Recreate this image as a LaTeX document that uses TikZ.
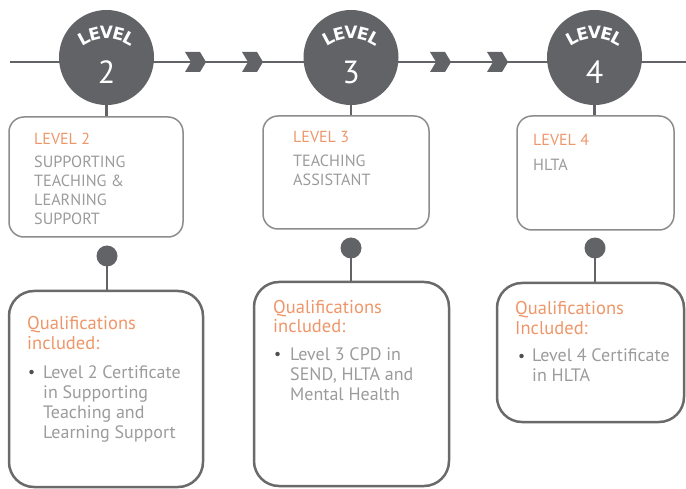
\documentclass[tikz,border=0pt]{standalone}
\usepackage{fontspec}
\setmainfont{PT Sans}
\newfontfamily\lvlfont{DejaVu Sans}
\usetikzlibrary{calc}
\definecolor{dk}{RGB}{98,99,102}
\definecolor{orng}{RGB}{238,150,105}
\definecolor{txtg}{RGB}{155,155,155}
\definecolor{boxg}{RGB}{140,140,142}
\definecolor{boxd}{RGB}{105,106,108}
\tikzset{
  levelcirc/.style={circle,fill=dk,minimum size=95pt,inner sep=0pt},
  lvl/.style={text=white,font=\lvlfont\bfseries\fontsize{17}{17}\selectfont,inner sep=0pt,anchor=base},
  numtxt/.style={text=white,font=\fontsize{32}{32}\selectfont,inner sep=0pt},
  topbox/.style={draw=boxg,line width=1.5pt,rounded corners=15pt,inner sep=0pt},
  botbox/.style={draw=boxd,line width=2.5pt,rounded corners=25pt,inner sep=0pt},
  link/.style={draw=dk,line width=2.5pt},
  dotnode/.style={circle,fill=dk,minimum size=21pt,inner sep=0pt},
  bulletdot/.style={circle,fill=dk!80!black,minimum size=4.5pt,inner sep=0pt},
  ttl/.style={text=orng,anchor=base west,inner sep=0pt},
  bdy/.style={text=txtg,anchor=base west,inner sep=0pt},
  chev/.style={fill=dk}
}
\newcommand{\toptitle}[1]{\parbox[t]{160pt}{\raggedright\fontsize{16}{19}\selectfont #1}}
\newcommand{\topbody}[1]{\parbox[t]{160pt}{\raggedright\fontsize{16.2}{19}\selectfont #1}}
\newcommand{\qtitle}[1]{\parbox[t]{170pt}{\raggedright\fontsize{18.5}{20}\selectfont #1}}
\newcommand{\qbody}[1]{\parbox[t]{170pt}{\raggedright\fontsize{18}{20}\selectfont #1}}
\begin{document}
\begin{tikzpicture}[x=1pt,y=-1pt]
\useasboundingbox (0,0) rectangle (686,489);
% timeline
\coordinate (lineL) at (10,62);
\coordinate (lineR) at (686,62);
\draw[link] (lineL) -- (lineR);
% chevrons
\foreach \cx in {185,242,430,487}{
  \fill[chev] (\cx,52) -- ++(15,0) -- ++(6,10) -- ++(-6,10) -- ++(-15,0) -- ++(6,-10) -- cycle;
}
% circles
\foreach \n/\cx in {2/106.5,3/351,4/594.5}{
  \node[levelcirc] (c\n) at (\cx,57.5) {};
  \foreach \ch/\a [count=\k] in {L/-28.2,E/-14.4,V/0,E/14.4,L/28.2}{
    \node[lvl,rotate=-\a] (c\n l\k) at ({\cx+42*sin(\a)},{81-42*cos(\a)}) {\ch};
  }
  \node[numtxt] (c\n num) at (\cx,72) {\n};
}
% top boxes
\node[topbox,minimum width=174pt,minimum height=120pt] (t2) at (96,177) {};
\node[topbox,minimum width=166pt,minimum height=113pt] (t3) at (346,172.5) {};
\node[topbox,minimum width=157pt,minimum height=114pt] (t4) at (595.5,173) {};
% dots
\node[dotnode] (d2) at (107,256) {};
\node[dotnode] (d3) at (351,248) {};
\node[dotnode] (d4) at (595,248) {};
% bottom boxes
\node[botbox,minimum width=194pt,minimum height=196pt] (b2) at (106,389) {};
\node[botbox,minimum width=195pt,minimum height=204pt] (b3) at (351.5,384) {};
\node[botbox,minimum width=187pt,minimum height=139pt] (b4) at (590.5,352.5) {};
% connectors
\draw[link] (c2.south) -- (c2.south |- t2.north);
\draw[link] (c3.south) -- (c3.south |- t3.north);
\draw[link] (c4.south) -- (c4.south |- t4.north);
\draw[link] (d2.center) -- (d2.center |- b2.north);
\draw[link] (d3.center) -- (d3.center |- b3.north);
\draw[link] (d4.center) -- (d4.center |- b4.north);
% top texts
\node[ttl] (t2a) at (34,145) {\toptitle{LEVEL 2}};
\node[bdy] (t2b) at (34,168) {\topbody{SUPPORTING\\TEACHING \&\\LEARNING\\SUPPORT}};
\node[ttl] (t3a) at (293,143) {\toptitle{LEVEL 3}};
\node[bdy] (t3b) at (293,167) {\topbody{TEACHING\\ASSISTANT}};
\node[ttl] (t4a) at (533,146) {\toptitle{LEVEL 4}};
\node[bdy] (t4b) at (533,171) {\topbody{HLTA}};
% bottom texts
\node[ttl] (b2a) at (27,330) {\qtitle{Qualifications\\included:}};
\node[bulletdot] (b2d) at (31.5,372) {};
\node[bdy] (b2b) at (43,378) {\qbody{Level 2 Certificate\\in Supporting\\Teaching and\\Learning Support}};
\node[ttl] (b3a) at (273,313) {\qtitle{Qualifications\\included:}};
\node[bulletdot] (b3d) at (277.5,354) {};
\node[bdy] (b3b) at (290,360) {\qbody{Level 3 CPD in\\SEND, HLTA and\\Mental Health}};
\node[ttl] (b4a) at (515,315) {\qtitle{Qualifications\\Included:}};
\node[bulletdot] (b4d) at (521.5,356) {};
\node[bdy] (b4b) at (532,362) {\qbody{Level 4 Certificate\\in HLTA}};
\end{tikzpicture}
\end{document}
